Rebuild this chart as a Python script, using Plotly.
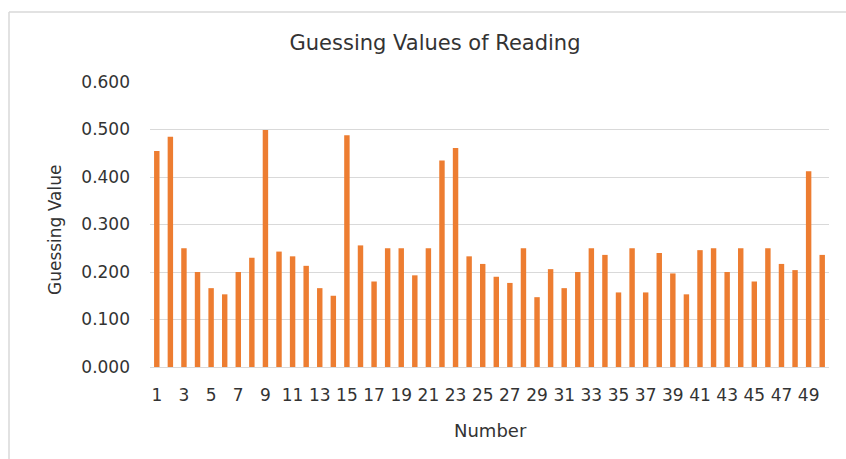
import plotly.graph_objects as go

numbers = list(range(1, 51))
guessing_values = [
    0.455, 0.485, 0.250, 0.200, 0.166, 0.153, 0.200, 0.230, 0.499, 0.243,
    0.233, 0.213, 0.166, 0.150, 0.488, 0.256, 0.180, 0.250, 0.250, 0.193,
    0.250, 0.435, 0.461, 0.233, 0.217, 0.190, 0.177, 0.250, 0.147, 0.206,
    0.166, 0.200, 0.250, 0.236, 0.157, 0.250, 0.157, 0.240, 0.197, 0.153,
    0.246, 0.250, 0.200, 0.250, 0.180, 0.250, 0.217, 0.204, 0.412, 0.236,
]
y_ticks = [0.0, 0.1, 0.2, 0.3, 0.4, 0.5, 0.6]

W, H = 846, 459
L, R, T, B = 150, 829, 82, 367

FONT = "DejaVu Sans"
TXT = "#333333"

def px(xp):
    return (xp - L) / (R - L)

def py(yp):
    return (B - yp) / (B - T)

fig = go.Figure(go.Bar(x=numbers, y=guessing_values, marker_color="#ED7D31",
                       marker_line_width=0))

fig.update_layout(
    width=W, height=H,
    margin=dict(l=L, r=W - R, t=T, b=H - B),
    paper_bgcolor="white", plot_bgcolor="white",
    bargap=0.6,
    showlegend=False,
    title=dict(text="Guessing Values of Reading", x=435 / W, xref="container",
               xanchor="center", y=1 - 43 / H, yref="container", yanchor="middle",
               font=dict(family=FONT, size=21, color=TXT)),
    xaxis=dict(range=[0.5, 50.5], tickmode="linear", tick0=1, dtick=2,
               showgrid=False, zeroline=False, showline=True, linecolor="#D9D9D9",
               linewidth=1, ticks="", tickangle=0, ticklabelstandoff=13,
               tickfont=dict(family=FONT, size=17, color=TXT)),
    yaxis=dict(range=[0, 0.6], tickvals=y_ticks, tickformat=".3f",
               showgrid=True, gridcolor="#D9D9D9", gridwidth=1, zeroline=False,
               ticks="", ticklabelstandoff=19,
               tickfont=dict(family=FONT, size=17, color=TXT)),
    annotations=[
        dict(text="Guessing Value", x=px(55), y=py(230), xref="paper", yref="paper",
             textangle=-90, showarrow=False, xanchor="center", yanchor="middle",
             font=dict(family=FONT, size=17, color=TXT)),
        dict(text="Number", x=px(490), y=py(430), xref="paper", yref="paper",
             showarrow=False, xanchor="center", yanchor="middle",
             font=dict(family=FONT, size=18, color=TXT)),
    ],
    shapes=[
        dict(type="line", xref="paper", yref="paper", x0=px(9), x1=px(846),
             y0=py(12), y1=py(12), line=dict(color="#D9D9D9", width=1.5)),
        dict(type="line", xref="paper", yref="paper", x0=px(9), x1=px(9),
             y0=py(12), y1=py(459), line=dict(color="#D9D9D9", width=1.5)),
    ],
)

fig.write_html("out.html", config={"displayModeBar": False},
               post_script="document.body.style.margin='0';")
